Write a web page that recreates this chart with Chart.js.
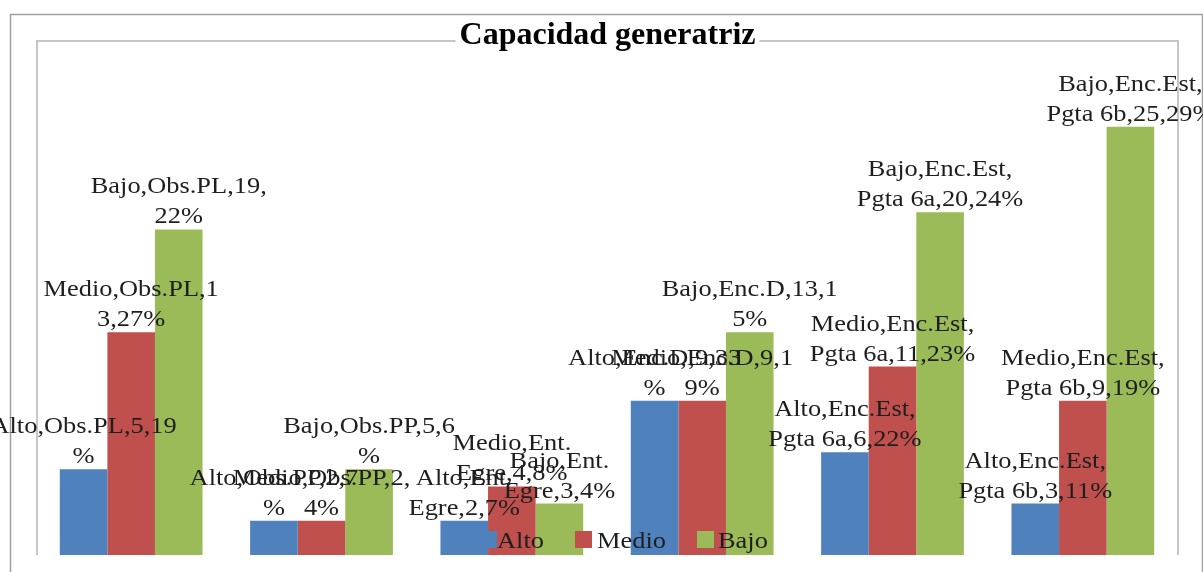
<!DOCTYPE html>
<html>
<head>
<meta charset="utf-8">
<script src="https://cdn.jsdelivr.net/npm/chart.js@4/dist/chart.umd.min.js"></script>
<style>
  html, body { margin: 0; padding: 0; background: #ffffff; }
  #wrap { width: 1203px; height: 572px; position: relative; }
</style>
</head>
<body>
<div id="wrap"><canvas id="c" width="1203" height="572"></canvas></div>
<script>
// ---- data ----
const chartTitle = "Capacidad generatriz";
const categories = ["Obs.PL", "Obs.PP", "Ent. Egre", "Enc.D", "Enc.Est, Pgta 6a", "Enc.Est, Pgta 6b"];
const seriesNames = ["Alto", "Medio", "Bajo"];
const altoValues = [5, 2, 2, 9, 6, 3];
const medioValues = [13, 2, 4, 9, 11, 9];
const bajoValues = [19, 5, 3, 13, 20, 25];
const seriesColors = ["#4f81bd", "#c0504d", "#9bbb59"];
const yMin = 0, yMax = 30;

const FAMILY = '"Liberation Serif", "Times New Roman", serif';
const LABEL_FONT = '24px ' + FAMILY;
const MEASURE_FONT = '100px ' + FAMILY;   // used only to decide line breaks
const WRAP_LIMIT = 710;                     // in MEASURE_FONT pixels
const TEXT_SX = 1.1;                        // horizontal stretch of label text
const LABEL_LINE_H = 30;

function wrapText(ctx, text, maxW) {
  const words = text.split(" ");
  const lines = [];
  let line = "";
  const w = (s) => ctx.measureText(s).width;
  const pushChars = (word) => {
    for (const ch of word) {
      if (line === "" || w(line + ch) <= maxW) line += ch;
      else { lines.push(line); line = ch; }
    }
  };
  words.forEach((wd) => {
    if (line === "") {
      if (w(wd) <= maxW) line = wd; else pushChars(wd);
    } else if (w(line + " " + wd) <= maxW) {
      line = line + " " + wd;
    } else {
      lines.push(line);
      line = "";
      if (w(wd) <= maxW) line = wd; else pushChars(wd);
    }
  });
  if (line !== "") lines.push(line);
  return lines;
}

function drawStretched(ctx, text, x, y, align) {
  ctx.save();
  ctx.translate(x, y);
  ctx.scale(TEXT_SX, 1);
  ctx.textAlign = align;
  ctx.fillText(text, 0, 0);
  ctx.restore();
}

const decorPlugin = {
  id: "decor",
  beforeDatasetsDraw(chart) {
    const ctx = chart.ctx;
    const a = chart.chartArea;
    ctx.save();
    ctx.strokeStyle = "#a0a0a0";
    ctx.lineWidth = 1.5;
    ctx.beginPath();
    ctx.moveTo(10.5, 580);
    ctx.lineTo(10.5, 14.5);
    ctx.lineTo(1202.5, 14.5);
    ctx.lineTo(1202.5, 580);
    ctx.stroke();
    ctx.strokeStyle = "#c6c6c6";
    ctx.lineWidth = 2;
    ctx.beginPath();
    ctx.moveTo(a.left + 1, a.bottom);
    ctx.lineTo(a.left + 1, a.top);
    ctx.lineTo(a.right, a.top);
    ctx.lineTo(a.right, a.bottom);
    ctx.stroke();
    ctx.restore();
  },
  afterDatasetsDraw(chart) {
    const ctx = chart.ctx;
    ctx.save();
    ctx.fillStyle = "#1e1e1e";
    ctx.textBaseline = "alphabetic";
    chart.data.datasets.forEach((ds, i) => {
      const meta = chart.getDatasetMeta(i);
      const total = ds.data.reduce((s, v) => s + v, 0);
      meta.data.forEach((bar, j) => {
        const v = ds.data[j];
        const pct = Math.round(v / total * 100);
        const txt = ds.label + "," + categories[j] + "," + v + "," + pct + "%";
        ctx.font = MEASURE_FONT;
        const lines = wrapText(ctx, txt, WRAP_LIMIT);
        ctx.font = LABEL_FONT;
        const baseY = bar.y - 6;
        lines.forEach((ln, k) => {
          const y = baseY - (lines.length - 1 - k) * LABEL_LINE_H;
          drawStretched(ctx, ln, bar.x, y, "center");
        });
      });
    });
    // legend inside the plot, bottom
    const legendItems = [
      { x: 480, tx: 497 },
      { x: 575, tx: 597 },
      { x: 697, tx: 718 }
    ];
    ctx.font = LABEL_FONT;
    chart.data.datasets.forEach((ds, i) => {
      const it = legendItems[i];
      ctx.fillStyle = ds.backgroundColor;
      ctx.fillRect(it.x, 531, 17, 17);
      ctx.fillStyle = "#1e1e1e";
      drawStretched(ctx, ds.label, it.tx, 548, "left");
    });
    // title
    ctx.font = 'bold 32px ' + FAMILY;
    const tw = ctx.measureText(chartTitle).width;
    const cx = 607.5;
    ctx.fillStyle = "#ffffff";
    ctx.fillRect(cx - tw / 2 - 4, 18, tw + 8, 30);
    ctx.fillStyle = "#000000";
    ctx.textAlign = "center";
    ctx.fillText(chartTitle, cx, 44);
    ctx.restore();
  }
};

new Chart(document.getElementById("c"), {
  type: "bar",
  data: {
    labels: categories,
    datasets: [
      { label: seriesNames[0], data: altoValues, backgroundColor: seriesColors[0] },
      { label: seriesNames[1], data: medioValues, backgroundColor: seriesColors[1] },
      { label: seriesNames[2], data: bajoValues, backgroundColor: seriesColors[2] }
    ]
  },
  options: {
    responsive: false,
    animation: false,
    devicePixelRatio: 1,
    layout: { padding: { left: 36, right: 25, top: 41, bottom: 17 } },
    datasets: { bar: { categoryPercentage: 0.75, barPercentage: 1.0, borderWidth: 0 } },
    scales: {
      x: { display: false, grid: { display: false } },
      y: { display: false, min: yMin, max: yMax, grid: { display: false } }
    },
    plugins: {
      legend: { display: false },
      title: { display: false },
      tooltip: { enabled: false }
    }
  },
  plugins: [decorPlugin]
});
</script>
</body>
</html>
